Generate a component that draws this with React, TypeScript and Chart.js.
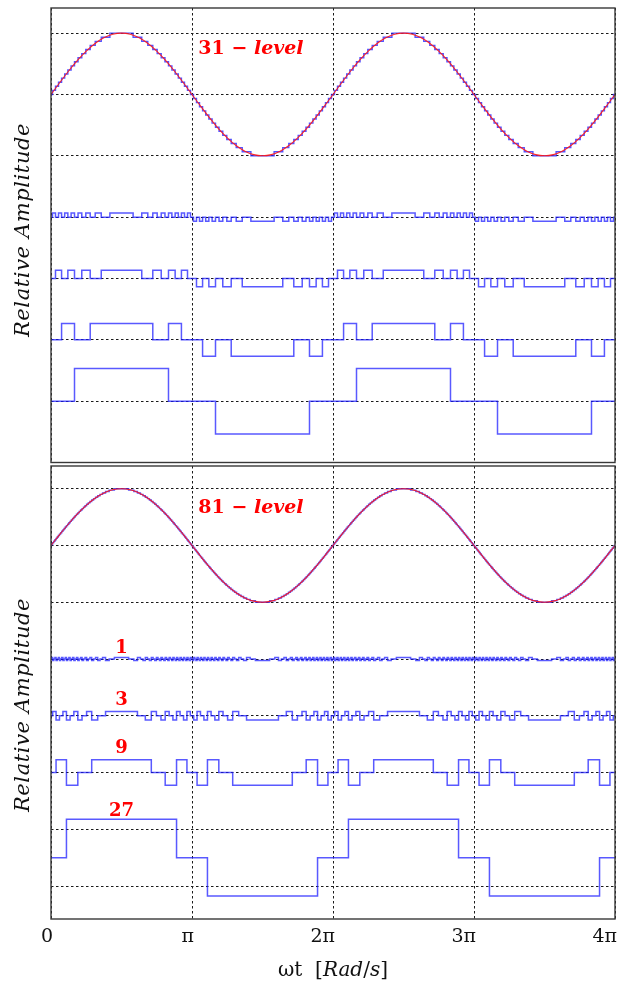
import React, { useEffect, useRef } from 'react';
import { Chart, registerables } from 'chart.js';

Chart.register(...registerables);

// ---------- data ----------
const xTickValues = [0, 1, 2, 3, 4]; // multiples of π
const xTickLabels = ['0', 'π', '2π', '3π', '4π'];

// sin(θ) read at π/16 steps over a quarter wave
const sineQuarter = [0, 0.1951, 0.3827, 0.5556, 0.7071, 0.8315, 0.9239, 0.9808, 1];

// quarter-wave switching angles (in units of π) where level k is reached
const steps31 = [0.0106, 0.0319, 0.0533, 0.075, 0.097, 0.1195, 0.1427, 0.1667, 0.1918, 0.2183, 0.2468, 0.2781, 0.3136, 0.3564, 0.4176];
const steps81 = [
  0.00398, 0.01194, 0.01991, 0.02789, 0.03589, 0.04391, 0.05196, 0.06004, 0.06816, 0.07633,
  0.08455, 0.09283, 0.10117, 0.10958, 0.11808, 0.12666, 0.13534, 0.14414, 0.15305, 0.16209,
  0.17128, 0.18063, 0.19016, 0.19989, 0.20984, 0.22003, 0.2305, 0.24129, 0.25244, 0.26399,
  0.27603, 0.28863, 0.30189, 0.31598, 0.33111, 0.34756, 0.36585, 0.38687, 0.41255, 0.44962,
];

const cells31 = [1, 2, 4, 8]; // binary cell ratios
const cells81 = [1, 3, 9, 27]; // trinary cell ratios
const cellBase31 = [3, 2, 1, 0]; // y offset of each cell trace
const cellBase81 = [4, 3, 2, 0.5];
const sineCenter31 = 5;
const sineCenter81 = 6;
const yGrid31 = [0, 1, 2, 3, 4, 5, 6];
const yGrid81 = [0, 1, 2, 3, 4, 5, 6, 7];
const cellLabels81 = ['1', '3', '9', '27'];
const cellLabelY81 = [4.11, 3.19, 2.345, 1.23];

// ---------- table builders ----------
type Pt = { x: number; y: number };

function staircase(steps: number[]): Pt[] {
  const n = steps.length;
  const pts: Pt[] = [{ x: 0, y: 0 }];
  for (let half = 0; half < 4; half++) {
    const sign = half % 2 === 0 ? 1 : -1;
    for (let k = 1; k <= n; k++) pts.push({ x: half + steps[k - 1], y: sign * k });
    for (let k = n; k >= 1; k--) pts.push({ x: half + 1 - steps[k - 1], y: sign * (k - 1) });
  }
  pts.push({ x: 4, y: 0 });
  return pts;
}

function binaryDigit(level: number, cell: number): number {
  const s = level < 0 ? -1 : level > 0 ? 1 : 0;
  return s * (Math.floor(Math.abs(level) / cell) % 2);
}

function ternaryDigits(level: number): number[] {
  const d: number[] = [];
  let n = level;
  for (let i = 0; i < 4; i++) {
    let r = ((n % 3) + 3) % 3;
    if (r === 2) r = -1;
    d.push(r);
    n = (n - r) / 3;
  }
  return d;
}

function sineWave(center: number): Pt[] {
  const pts: Pt[] = [];
  for (let i = 0; i <= 64; i++) {
    const j = i % 32;
    const v = j <= 8 ? sineQuarter[j] : j <= 16 ? sineQuarter[16 - j] : j <= 24 ? -sineQuarter[j - 16] : -sineQuarter[32 - j];
    pts.push({ x: i / 16, y: center + v });
  }
  return pts;
}

const BLUE = 'rgba(25,25,255,0.72)';
const STAIR = 'rgba(40,40,255,0.8)';
const RED = 'rgba(255,25,25,0.92)';
const SERIF = '"DejaVu Serif", "Liberation Serif", serif';

function buildDatasets(kind: '31' | '81') {
  const steps = kind === '31' ? steps31 : steps81;
  const N = steps.length;
  const cells = kind === '31' ? cells31 : cells81;
  const bases = kind === '31' ? cellBase31 : cellBase81;
  const center = kind === '31' ? sineCenter31 : sineCenter81;
  const stair = staircase(steps);
  const ds: any[] = [];
  ds.push({ data: sineWave(center), borderColor: RED, borderWidth: 1.1, pointRadius: 0, cubicInterpolationMode: 'monotone' });
  ds.push({ data: stair.map((p) => ({ x: p.x, y: center + p.y / N })), borderColor: STAIR, borderWidth: 1.4, pointRadius: 0, stepped: 'before' });
  cells.forEach((cell, ci) => {
    const data = stair.map((p) => {
      const digit = kind === '31' ? binaryDigit(p.y, cell) : ternaryDigits(p.y)[ci];
      return { x: p.x, y: bases[ci] + (cell * digit) / N };
    });
    ds.push({ data, borderColor: BLUE, borderWidth: 1.5, pointRadius: 0, stepped: 'before' });
  });
  return ds;
}

type Part = { t: string; f: string };

function drawParts(ctx: CanvasRenderingContext2D, parts: Part[], x: number, y: number, align: 'left' | 'center') {
  let total = 0;
  const widths = parts.map((p) => {
    ctx.font = p.f;
    const w = ctx.measureText(p.t).width;
    total += w;
    return w;
  });
  let cx = align === 'center' ? x - total / 2 : x;
  ctx.textAlign = 'left';
  parts.forEach((p, i) => {
    ctx.font = p.f;
    ctx.fillText(p.t, cx, y);
    cx += widths[i];
  });
}

const overlayPlugin = {
  id: 'overlay',
  afterDatasetsDraw(chart: any, _args: any, opts: any) {
    const { ctx, chartArea: a, scales } = chart;
    ctx.save();
    // frame
    ctx.strokeStyle = '#383838';
    ctx.lineWidth = 1.4;
    ctx.strokeRect(a.left, a.top, a.right - a.left, a.bottom - a.top);
    // y title
    ctx.fillStyle = '#111';
    ctx.save();
    ctx.translate(opts.yTitleX, opts.yTitleY);
    ctx.rotate(-Math.PI / 2);
    ctx.font = `italic 21px ${SERIF}`;
    (ctx as any).letterSpacing = '0.6px';
    ctx.textAlign = 'center';
    ctx.textBaseline = 'alphabetic';
    ctx.fillText('Relative Amplitude', 0, 0);
    ctx.restore();
    // level label
    ctx.fillStyle = '#ff0000';
    ctx.textBaseline = 'alphabetic';
    const lx = scales.x.getPixelForValue(opts.levelX);
    const ly = scales.y.getPixelForValue(opts.levelY);
    drawParts(ctx, [
      { t: opts.levelText, f: `bold 19px ${SERIF}` },
      { t: ' − ', f: `bold 19px ${SERIF}` },
      { t: 'level', f: `italic bold 19px ${SERIF}` },
    ], lx, ly, 'left');
    // cell labels
    if (opts.cellLabels) {
      ctx.font = `bold 18px ${SERIF}`;
      ctx.textAlign = 'center';
      opts.cellLabels.forEach((t: string, i: number) => {
        ctx.fillText(t, scales.x.getPixelForValue(0.5), scales.y.getPixelForValue(opts.cellLabelY[i]));
      });
    }
    // x title
    if (opts.xTitle) {
      ctx.fillStyle = '#111';
      const cx = (a.left + a.right) / 2;
      drawParts(ctx, [
        { t: 'ωt  [', f: `20px ${SERIF}` },
        { t: 'Rad', f: `italic 20px ${SERIF}` },
        { t: '/', f: `20px ${SERIF}` },
        { t: 's', f: `italic 20px ${SERIF}` },
        { t: ']', f: `20px ${SERIF}` },
      ], cx, opts.xTitleY, 'center');
    }
    ctx.restore();
  },
};

function buildConfig(kind: '31' | '81'): any {
  const top = kind === '31';
  const gridColor = '#1a1a1a';
  return {
    type: 'line',
    data: { datasets: buildDatasets(kind) },
    plugins: [overlayPlugin],
    options: {
      animation: false,
      responsive: false,
      devicePixelRatio: 1,
      parsing: false,
      normalized: true,
      layout: { padding: top ? { left: 51, right: 10, top: 8, bottom: 1.5 } : { left: 51, right: 10, top: 2, bottom: 0 } },
      plugins: {
        legend: { display: false },
        tooltip: { enabled: false },
        overlay: {
          yTitleX: 29,
          yTitleY: top ? 230 : 241,
          levelText: kind,
          levelX: 1.045,
          levelY: top ? 5.663 : 6.577,
          cellLabels: top ? null : cellLabels81,
          cellLabelY: cellLabelY81,
          xTitle: !top,
          xTitleY: 512,
        },
      },
      scales: {
        x: {
          type: 'linear',
          min: 0,
          max: 4,
          afterBuildTicks: (s: any) => { s.ticks = xTickValues.map((v) => ({ value: v })); },
          afterFit: (s: any) => { s.height = top ? 0 : 65; },
          ticks: {
            display: !top,
            align: 'end',
            labelOffset: 2,
            padding: 7,
            color: '#111',
            font: { family: SERIF, size: 19 },
            maxRotation: 0,
            autoSkip: false,
            callback: (v: number) => xTickLabels[Math.round(v)] ?? '',
          },
          grid: { color: gridColor, lineWidth: 1, drawTicks: false },
          border: { display: false, dash: [2.5, 2.5] },
        },
        y: {
          type: 'linear',
          min: top ? -1.0 : -0.58,
          max: top ? 6.41 : 7.40,
          afterBuildTicks: (s: any) => { s.ticks = (top ? yGrid31 : yGrid81).map((v) => ({ value: v })); },
          afterFit: (s: any) => { s.width = 0; },
          ticks: { display: false },
          grid: { color: gridColor, lineWidth: 1, drawTicks: false },
          border: { display: false, dash: [2.5, 2.5] },
        },
      },
    },
  };
}

export default function App() {
  const r1 = useRef<HTMLCanvasElement>(null);
  const r2 = useRef<HTMLCanvasElement>(null);
  useEffect(() => {
    const c1 = new Chart(r1.current as HTMLCanvasElement, buildConfig('31'));
    const c2 = new Chart(r2.current as HTMLCanvasElement, buildConfig('81'));
    return () => {
      c1.destroy();
      c2.destroy();
    };
  }, []);
  return (
    <div style={{ position: 'fixed', left: 0, top: 0, width: 625, height: 984, background: '#fff' }}>
      <canvas ref={r1} width={625} height={464} style={{ position: 'absolute', left: 0, top: 0 }} />
      <canvas ref={r2} width={625} height={520} style={{ position: 'absolute', left: 0, top: 464 }} />
    </div>
  );
}
